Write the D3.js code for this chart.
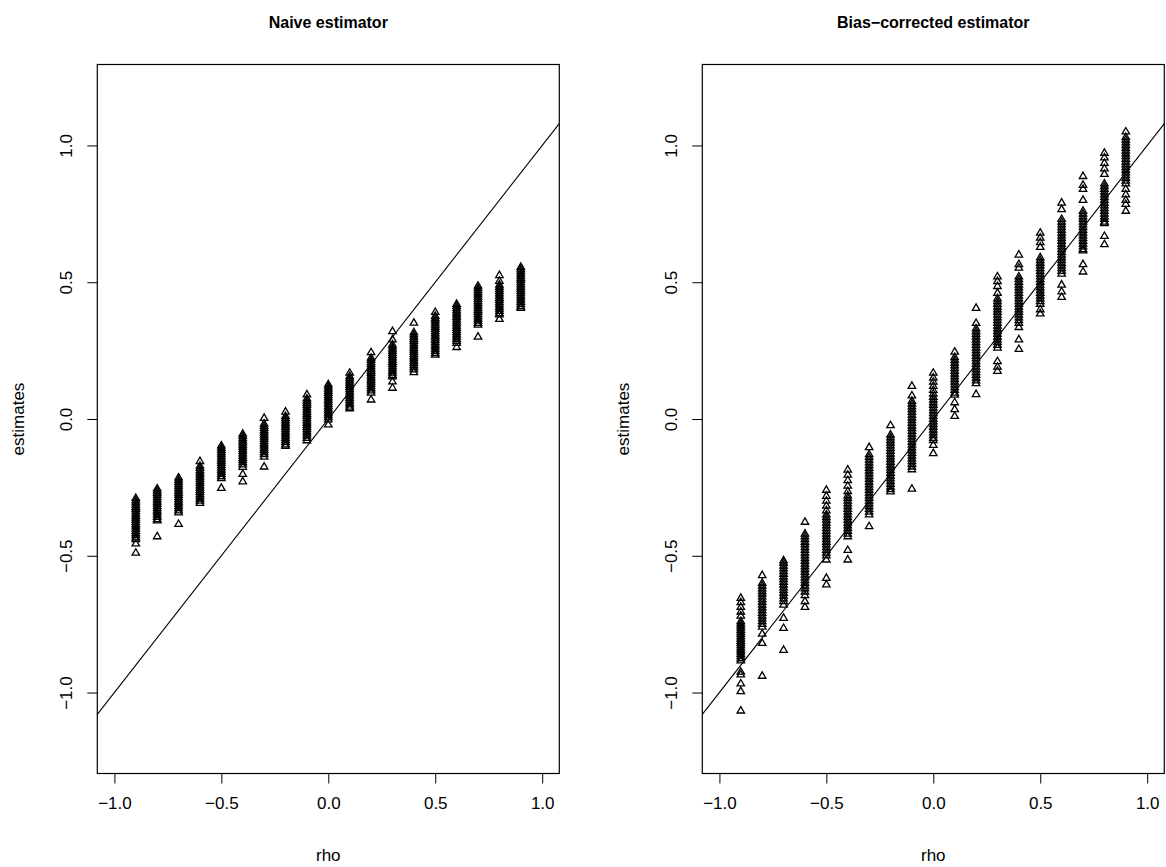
<!DOCTYPE html>
<html>
<head>
<meta charset="utf-8">
<script src="https://cdn.jsdelivr.net/npm/d3@7"></script>
<style>
  body { margin: 0; background: #fff; }
  svg { display: block; font-family: "Liberation Sans", Arial, Helvetica, sans-serif; }
</style>
</head>
<body>
<div id="chart"></div>
<script>
// true rho values used in the simulation
const rhoValues = [-0.9, -0.8, -0.7, -0.6, -0.5, -0.4, -0.3, -0.2, -0.1, 0, 0.1, 0.2, 0.3, 0.4, 0.5, 0.6, 0.7, 0.8, 0.9];

// naive estimates, one list per rho
const naiveEstimates = [
  [-0.29,-0.298,-0.306,-0.314,-0.322,-0.33,-0.338,-0.346,-0.354,-0.362,-0.37,-0.378,-0.386,-0.394,-0.402,-0.41,-0.418,-0.426,-0.434,-0.44,-0.456,-0.49],
  [-0.255,-0.263,-0.271,-0.279,-0.287,-0.295,-0.303,-0.311,-0.319,-0.327,-0.335,-0.343,-0.351,-0.359,-0.367,-0.372,-0.43],
  [-0.215,-0.223,-0.231,-0.239,-0.247,-0.255,-0.263,-0.271,-0.279,-0.287,-0.295,-0.303,-0.311,-0.319,-0.327,-0.335,-0.343,-0.385],
  [-0.155,-0.172,-0.18,-0.188,-0.196,-0.204,-0.212,-0.22,-0.228,-0.236,-0.244,-0.252,-0.26,-0.268,-0.276,-0.284,-0.292,-0.3,-0.308],
  [-0.098,-0.106,-0.114,-0.122,-0.13,-0.138,-0.146,-0.154,-0.162,-0.17,-0.178,-0.186,-0.194,-0.202,-0.21,-0.217,-0.253],
  [-0.055,-0.063,-0.071,-0.079,-0.087,-0.095,-0.103,-0.111,-0.119,-0.127,-0.135,-0.143,-0.151,-0.159,-0.167,-0.176,-0.202,-0.229],
  [0.003,-0.018,-0.026,-0.034,-0.042,-0.05,-0.058,-0.066,-0.074,-0.082,-0.09,-0.098,-0.106,-0.114,-0.122,-0.13,-0.139,-0.175],
  [0.026,0.01,0.002,-0.006,-0.014,-0.022,-0.03,-0.038,-0.046,-0.054,-0.062,-0.07,-0.078,-0.086,-0.094,-0.099],
  [0.089,0.074,0.066,0.058,0.05,0.042,0.034,0.026,0.018,0.01,0.002,-0.006,-0.014,-0.022,-0.03,-0.038,-0.046,-0.054,-0.062,-0.07,-0.079],
  [0.126,0.118,0.11,0.102,0.094,0.086,0.078,0.07,0.062,0.054,0.046,0.038,0.03,0.022,0.014,0.006,-0.003,-0.021],
  [0.168,0.156,0.148,0.14,0.132,0.124,0.116,0.108,0.1,0.092,0.084,0.076,0.068,0.06,0.052,0.044,0.038],
  [0.243,0.223,0.215,0.207,0.199,0.191,0.183,0.175,0.167,0.159,0.151,0.143,0.135,0.127,0.119,0.111,0.103,0.095,0.07],
  [0.32,0.29,0.272,0.264,0.256,0.248,0.24,0.232,0.224,0.216,0.208,0.2,0.192,0.184,0.176,0.168,0.16,0.155,0.136,0.113],
  [0.351,0.316,0.308,0.3,0.292,0.284,0.276,0.268,0.26,0.252,0.244,0.236,0.228,0.22,0.212,0.204,0.196,0.188,0.18,0.17],
  [0.39,0.376,0.368,0.36,0.352,0.344,0.336,0.328,0.32,0.312,0.304,0.296,0.288,0.28,0.272,0.264,0.256,0.248,0.24,0.234],
  [0.42,0.412,0.404,0.396,0.388,0.38,0.372,0.364,0.356,0.348,0.34,0.332,0.324,0.316,0.308,0.3,0.292,0.284,0.277,0.262],
  [0.486,0.478,0.47,0.462,0.454,0.446,0.438,0.43,0.422,0.414,0.406,0.398,0.39,0.382,0.374,0.366,0.358,0.35,0.344,0.3],
  [0.525,0.504,0.49,0.482,0.474,0.466,0.458,0.45,0.442,0.434,0.426,0.418,0.41,0.402,0.394,0.386,0.381,0.365],
  [0.555,0.547,0.539,0.531,0.523,0.515,0.507,0.499,0.491,0.483,0.475,0.467,0.459,0.451,0.443,0.435,0.427,0.419,0.411,0.405]
];

// bias-corrected estimates, one list per rho
const correctedEstimates = [
  [-0.655,-0.671,-0.688,-0.705,-0.72,-0.74,-0.748,-0.756,-0.764,-0.772,-0.78,-0.788,-0.796,-0.804,-0.812,-0.82,-0.828,-0.836,-0.844,-0.852,-0.86,-0.868,-0.876,-0.884,-0.925,-0.935,-0.968,-0.996,-1.067],
  [-0.572,-0.6,-0.61,-0.62,-0.63,-0.64,-0.65,-0.66,-0.67,-0.68,-0.69,-0.7,-0.71,-0.72,-0.73,-0.74,-0.75,-0.76,-0.786,-0.82,-0.94],
  [-0.518,-0.527,-0.537,-0.547,-0.557,-0.567,-0.577,-0.587,-0.597,-0.607,-0.617,-0.627,-0.637,-0.647,-0.657,-0.667,-0.68,-0.728,-0.765,-0.845],
  [-0.377,-0.42,-0.43,-0.44,-0.45,-0.46,-0.47,-0.48,-0.49,-0.5,-0.51,-0.52,-0.53,-0.54,-0.55,-0.56,-0.57,-0.58,-0.59,-0.6,-0.61,-0.62,-0.632,-0.645,-0.667,-0.688],
  [-0.26,-0.282,-0.3,-0.318,-0.335,-0.35,-0.36,-0.37,-0.38,-0.39,-0.4,-0.41,-0.42,-0.43,-0.44,-0.45,-0.46,-0.47,-0.48,-0.49,-0.5,-0.515,-0.582,-0.606],
  [-0.186,-0.205,-0.225,-0.245,-0.265,-0.28,-0.29,-0.3,-0.31,-0.32,-0.33,-0.34,-0.35,-0.36,-0.37,-0.38,-0.39,-0.4,-0.41,-0.42,-0.43,-0.48,-0.515],
  [-0.104,-0.13,-0.14,-0.15,-0.16,-0.17,-0.18,-0.19,-0.2,-0.21,-0.22,-0.23,-0.24,-0.25,-0.26,-0.27,-0.28,-0.29,-0.3,-0.31,-0.32,-0.33,-0.34,-0.35,-0.393],
  [-0.024,-0.058,-0.068,-0.078,-0.088,-0.098,-0.108,-0.118,-0.128,-0.138,-0.148,-0.158,-0.168,-0.178,-0.188,-0.198,-0.208,-0.218,-0.228,-0.238,-0.248,-0.258,-0.266],
  [0.12,0.085,0.065,0.055,0.045,0.035,0.025,0.015,0.005,-0.005,-0.015,-0.025,-0.035,-0.045,-0.055,-0.065,-0.075,-0.085,-0.095,-0.105,-0.115,-0.125,-0.135,-0.145,-0.155,-0.165,-0.175,-0.185,-0.256],
  [0.168,0.15,0.135,0.12,0.105,0.092,0.08,0.07,0.06,0.05,0.04,0.03,0.02,0.01,0,-0.01,-0.02,-0.03,-0.04,-0.05,-0.06,-0.07,-0.078,-0.096,-0.126],
  [0.245,0.225,0.215,0.205,0.195,0.185,0.175,0.165,0.155,0.145,0.135,0.125,0.115,0.105,0.095,0.088,0.06,0.035,0.01],
  [0.405,0.35,0.33,0.32,0.31,0.3,0.29,0.28,0.27,0.26,0.25,0.24,0.23,0.22,0.21,0.2,0.19,0.18,0.17,0.16,0.15,0.14,0.13,0.09],
  [0.52,0.503,0.485,0.46,0.44,0.43,0.42,0.41,0.4,0.39,0.38,0.37,0.36,0.35,0.34,0.33,0.32,0.31,0.3,0.29,0.28,0.27,0.26,0.21,0.19,0.175],
  [0.6,0.565,0.552,0.52,0.51,0.5,0.49,0.48,0.47,0.46,0.45,0.44,0.43,0.42,0.41,0.4,0.39,0.38,0.37,0.36,0.35,0.335,0.29,0.255],
  [0.68,0.662,0.645,0.628,0.59,0.58,0.57,0.56,0.55,0.54,0.53,0.52,0.51,0.5,0.49,0.48,0.47,0.46,0.45,0.44,0.43,0.42,0.4,0.385],
  [0.79,0.766,0.73,0.72,0.71,0.7,0.69,0.68,0.67,0.66,0.65,0.64,0.63,0.62,0.61,0.6,0.59,0.58,0.57,0.56,0.55,0.54,0.53,0.49,0.465,0.445],
  [0.887,0.855,0.84,0.8,0.76,0.75,0.74,0.73,0.72,0.71,0.7,0.69,0.68,0.67,0.66,0.65,0.64,0.63,0.62,0.615,0.565,0.538],
  [0.972,0.955,0.935,0.915,0.895,0.86,0.85,0.84,0.83,0.82,0.81,0.8,0.79,0.78,0.77,0.76,0.75,0.74,0.73,0.72,0.715,0.668,0.638],
  [1.05,1.03,1.02,1.01,1.0,0.99,0.98,0.97,0.96,0.95,0.94,0.93,0.92,0.91,0.9,0.89,0.88,0.87,0.86,0.84,0.82,0.8,0.785,0.76]
];

const xTicks = [-1.0, -0.5, 0.0, 0.5, 1.0];
const yTicks = [-1.0, -0.5, 0.0, 0.5, 1.0];
const xLimits = [-1.08, 1.08];
const yLimits = [-1.296, 1.296];

const W = 1166, H = 867;
const svg = d3.select("#chart").append("svg")
  .attr("width", W)
  .attr("height", H);

const fmt = d => d3.format(".1f")(d).replace("-", "\u2212");

function drawPanel(left, right, title, estimates) {
  const top = 64.5, bottom = 773.5;
  const g = svg.append("g");

  const x = d3.scaleLinear().domain(xLimits).range([left, right]);
  const y = d3.scaleLinear().domain(yLimits).range([bottom, top]);

  // points (pch = 2, open triangles)
  const pts = [];
  rhoValues.forEach((r, i) => estimates[i].forEach(v => pts.push({ rho: r, est: v })));
  const tri = d3.symbol().type(d3.symbolTriangle).size(24);
  g.append("g").selectAll("path")
    .data(pts)
    .enter().append("path")
    .attr("d", tri)
    .attr("transform", d => `translate(${x(d.rho)},${y(d.est)})`)
    .attr("fill", "none")
    .attr("stroke", "#000")
    .attr("stroke-width", 1.3);

  // reference line y = x
  g.append("line")
    .attr("x1", x(xLimits[0])).attr("y1", y(xLimits[0]))
    .attr("x2", x(xLimits[1])).attr("y2", y(xLimits[1]))
    .attr("stroke", "#000")
    .attr("stroke-width", 1.1);

  // box
  g.append("rect")
    .attr("x", left).attr("y", top)
    .attr("width", right - left).attr("height", bottom - top)
    .attr("fill", "none")
    .attr("stroke", "#000")
    .attr("stroke-width", 1.2);

  // x axis
  const xa = g.append("g")
    .attr("transform", `translate(0,${bottom})`)
    .call(d3.axisBottom(x).tickValues(xTicks).tickFormat(fmt).tickSize(10).tickPadding(13));
  xa.select(".domain").remove();
  xa.selectAll("text").attr("font-size", 17).attr("fill", "#000");
  xa.selectAll("line").attr("stroke", "#000");

  // y axis with R-style rotated labels
  const ya = g.append("g")
    .attr("transform", `translate(${left},0)`)
    .call(d3.axisLeft(y).tickValues(yTicks).tickFormat(fmt).tickSize(10));
  ya.select(".domain").remove();
  ya.selectAll("line").attr("stroke", "#000");
  ya.selectAll("text")
    .attr("font-size", 17).attr("fill", "#000")
    .attr("x", null).attr("dy", null)
    .attr("text-anchor", "middle")
    .attr("transform", "translate(-25,0) rotate(-90)");

  // labels
  g.append("text")
    .attr("x", (left + right) / 2).attr("y", 28)
    .attr("text-anchor", "middle")
    .attr("font-size", 16).attr("font-weight", "bold")
    .text(title);

  g.append("text")
    .attr("x", (left + right) / 2).attr("y", 861)
    .attr("text-anchor", "middle")
    .attr("font-size", 17)
    .text("rho");

  g.append("text")
    .attr("transform", `translate(${left - 73},${(top + bottom) / 2}) rotate(-90)`)
    .attr("text-anchor", "middle")
    .attr("font-size", 17)
    .text("estimates");
}

drawPanel(97.3, 559.3, "Naive estimator", naiveEstimates);
drawPanel(702.3, 1164.3, "Bias\u2212corrected estimator", correctedEstimates);
</script>
</body>
</html>
